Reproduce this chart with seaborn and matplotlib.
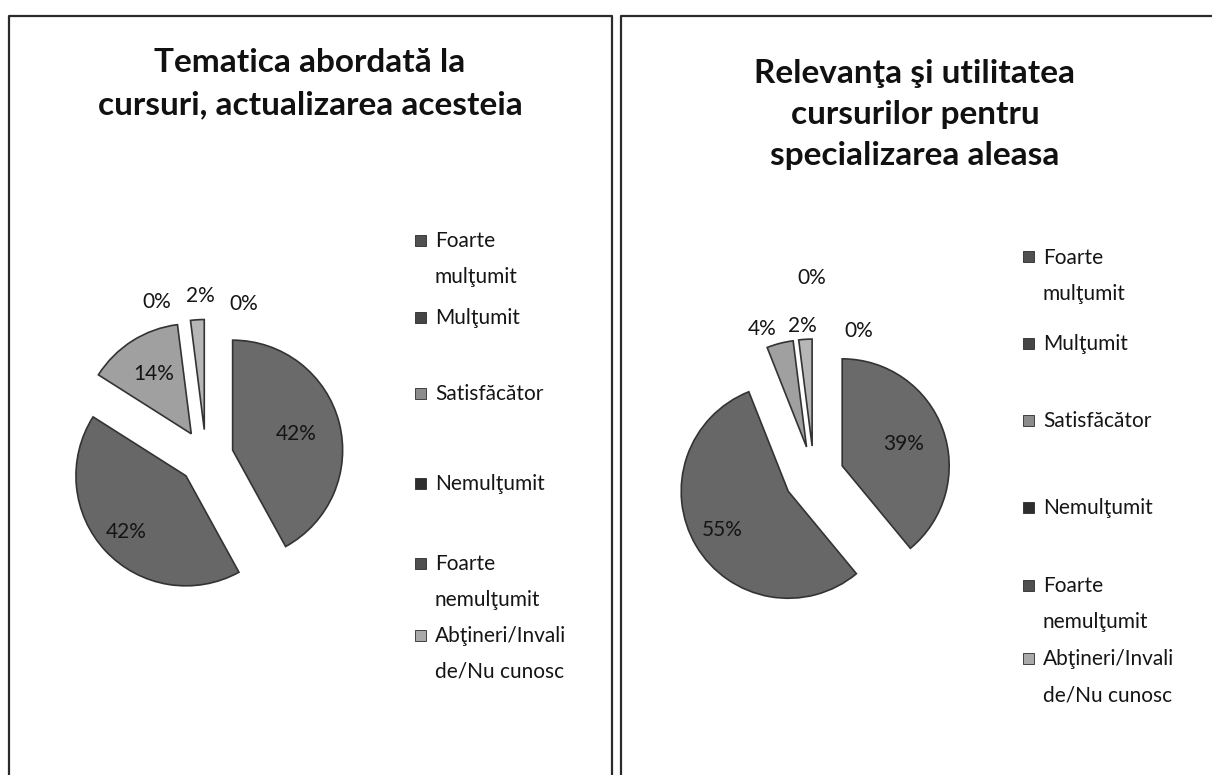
import matplotlib
matplotlib.use("Agg")
import matplotlib.pyplot as plt
from matplotlib.lines import Line2D
from matplotlib.patches import Rectangle
import numpy as np
import seaborn as sns

# data
categories = ["Foarte mulţumit", "Mulţumit", "Satisfăcător", "Nemulţumit",
              "Foarte nemulţumit", "Abţineri/Invalide/Nu cunosc"]
legend_labels = ["Foarte\nmulţumit", "Mulţumit", "Satisfăcător", "Nemulţumit",
                 "Foarte\nnemulţumit", "Abţineri/Invali\nde/Nu cunosc"]
tematica_pct = [42, 42, 14, 0, 0, 2]
relevanta_pct = [39, 55, 4, 0, 0, 2]
title_left = "Tematica abordată la\ncursuri, actualizarea acesteia"
title_right = "Relevanţa şi utilitatea\ncursurilor pentru\nspecializarea aleasa"

# greys of the scan
slice_colors = ["#6a6a6a", "#676767", "#a0a0a0", "#3a3a3a", "#555555", "#b6b6b6"]
swatch_colors = ["#505050", "#454545", "#8c8c8c", "#2e2e2e", "#4f4f4f", "#a9a9a9"]

sns.set_theme(style="white")
plt.rcParams['font.family'] = ['Lato', 'DejaVu Sans']

W, H = 1212, 775
fig = plt.figure(figsize=(W / 100, H / 100), dpi=100)
fig.patch.set_facecolor("white")


def fx(x):
    return x / W


def fy(y):
    return 1 - y / H


def draw_pie(cx, cy, r, values, explode, pct_dist, label_pos):
    half = 2 * r
    ax = fig.add_axes([fx(cx - half), fy(cy + half), 2 * half / W, 2 * half / H])
    wedges, _ = ax.pie(values, colors=slice_colors, startangle=90, counterclock=False,
                       explode=[explode] * len(values), radius=1,
                       wedgeprops=dict(edgecolor="#333333", linewidth=1.2))
    ax.set_xlim(-2, 2)
    ax.set_ylim(-2, 2)
    ax.axis("off")
    for i, (w, v) in enumerate(zip(wedges, values)):
        if v == 0:
            w.set_visible(False)
        if i in label_pos:
            ang, d = label_pos[i]
            x, y = d * np.cos(np.deg2rad(ang)), d * np.sin(np.deg2rad(ang))
        else:
            mid = np.deg2rad((w.theta1 + w.theta2) / 2)
            x = w.center[0] + pct_dist[i] * np.cos(mid)
            y = w.center[1] + pct_dist[i] * np.sin(mid)
        ax.text(x, y, f"{v}%", ha="center", va="center", fontsize=15, color="#151515")
    return ax


def draw_legend(x_mark, x_text, ys):
    for lab, col, y in zip(legend_labels, swatch_colors, ys):
        fig.add_artist(Rectangle((fx(x_mark - 5.5), fy(y + 5.5)), 11 / W, 11 / H,
                                 transform=fig.transFigure, facecolor=col,
                                 edgecolor="#2a2a2a", linewidth=0.6))
        fig.text(fx(x_text), fy(y - 9), lab, ha="left", va="top",
                 fontsize=15, color="#151515", linespacing=2.0)


# panel frames
frame = dict(color="#2b2b2b", linewidth=1.6)
fig.add_artist(Line2D([fx(9), fx(9), fx(612), fx(612)], [0, fy(16), fy(16), 0],
                      transform=fig.transFigure, **frame))
fig.add_artist(Line2D([fx(621), fx(621), 1], [0, fy(16), fy(16)],
                      transform=fig.transFigure, **frame))

# titles
fig.text(fx(310), fy(48), title_left, ha="center", va="top", fontsize=24,
         fontweight="bold", color="#111111", linespacing=1.55)
fig.text(fx(915), fy(59), title_right, ha="center", va="top", fontsize=24,
         fontweight="bold", color="#111111", linespacing=1.5)

draw_pie(206, 457, 110, tematica_pct, 0.25, [0.6, 0.75, 0.64, 0, 0, 0],
         {3: (107.5, 1.48), 4: (76, 1.43), 5: (92, 1.46)})
draw_pie(814, 476, 107, relevanta_pct, 0.28, [0.61, 0.72, 0, 0, 0, 0],
         {2: (109.4, 1.46), 3: (90.6, 1.85), 4: (73, 1.42), 5: (94.5, 1.41)})

draw_legend(420, 435, [240, 317, 393, 483, 563, 635])
draw_legend(1028, 1043, [257, 343, 420, 507, 585, 658])

fig.savefig("out.png", dpi=100, facecolor="white")
